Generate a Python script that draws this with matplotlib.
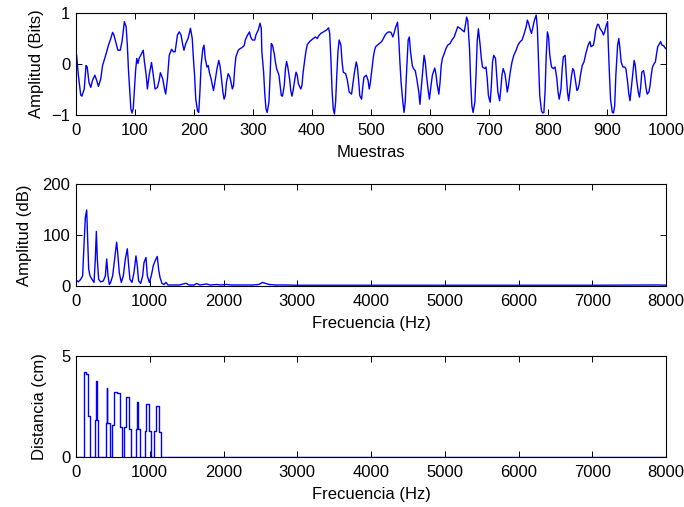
import matplotlib
matplotlib.use("Agg")
import matplotlib.pyplot as plt

plt.rcParams['font.family'] = ['Liberation Sans', 'DejaVu Sans']
FS = 12
plt.rcParams['font.size'] = FS

# --- Señal en el tiempo (muestras, amplitud) ---
muestras = [
    1, 4, 8, 10, 14, 17, 19, 22, 25, 28, 32, 35, 38, 42, 45, 49, 52, 55, 59, 62, 64, 68, 71, 75, 78, 80,
    82, 85, 87, 89, 91, 93, 95, 97, 99, 101, 103, 105, 107, 111, 114, 116, 119, 121, 124, 128, 131, 134,
    138, 141, 143, 147, 150, 152, 155, 158, 162, 165,
    168, 172, 175, 178, 181, 183, 186, 190, 192, 194, 197, 199, 201, 203, 206, 208, 210, 212, 215, 217,
    219, 222, 224, 226, 229, 233, 235, 239, 242, 244, 246, 249, 251, 253, 255, 258, 261, 265, 267, 269,
    271, 275, 278, 281, 285, 287, 290, 294, 296, 299, 303, 305, 309, 312, 314, 315, 318, 320, 322, 324,
    327, 329,
    331, 333, 336, 338, 340, 344, 346, 348, 350, 353, 355, 357, 359, 362, 364, 366, 368, 371, 373, 375,
    377, 381, 383, 385, 388, 390, 392, 396, 399, 402, 406, 409, 411, 415, 418, 422, 425, 428, 430, 432,
    434, 436, 438, 440, 442, 444, 446, 449, 451, 453, 457, 460, 463, 467, 469, 472, 475, 477, 479, 481,
    484, 486, 488, 492, 495, 497,
    499, 502, 504, 506, 508, 511, 514, 518, 521, 524, 528, 531, 534, 537, 539, 542, 545, 547, 549, 551,
    554, 556, 558, 560, 563, 565, 567, 570, 572, 575, 578, 581, 583, 585, 588, 590, 592, 594, 597, 599,
    601, 604, 608, 610, 612, 615, 617, 619, 621, 624, 627, 630, 634, 637, 641, 644, 647, 651, 654, 658,
    661,
    662, 664, 667, 669, 671, 673, 676, 678, 680, 682, 685, 687, 689, 693, 695, 697, 699, 702, 704, 706,
    708, 711, 713, 715, 718, 720, 722, 724, 727, 729, 731, 733, 736, 739, 742, 746, 749, 753, 756, 759,
    763, 765, 767, 770, 772, 774, 777, 780, 782, 784, 786, 789, 791, 793, 795, 797, 799, 801, 803, 806,
    809, 812, 815, 817, 819, 822, 824, 826, 829,
    831, 833, 835, 837, 840, 842, 844, 846, 849, 851, 853, 855, 858, 861, 864, 868, 871, 873, 877, 879,
    881, 884, 886, 888, 892, 894, 896, 898, 901, 902, 904, 906, 909, 911, 913, 915, 918, 920, 922, 924,
    927, 930, 932, 935, 937, 939, 941, 944, 946, 948, 950, 953, 955, 957, 959, 962, 964, 966, 968, 971,
    973, 975, 977, 980, 982, 984, 986, 989, 991, 993, 996, 998, 1000,
]
amplitud = [
    0.17, -0.22, -0.61, -0.63, -0.49, -0.03, -0.06, -0.36, -0.46, -0.32, -0.22, -0.32, -0.44, -0.29, -0.03,
    0.12, 0.24, 0.37, 0.50, 0.62, 0.58, 0.40, 0.27, 0.27, 0.44, 0.63,
    0.83, 0.73, 0.37, -0.13, -0.52, -0.88, -0.96, -0.88, -0.49, -0.13, 0.11, 0.01, 0.11, 0.20, 0.27, 0.04,
    -0.22, -0.49, -0.22, 0.03, -0.22, -0.49,
    -0.46, -0.32, -0.17, -0.29, -0.49, -0.59, -0.29, 0.17, 0.29, 0.24,
    0.24, 0.57, 0.63, 0.57, 0.37, 0.27, 0.40, 0.50, 0.60, 0.70, 0.50, 0.11, -0.22, -0.69, -0.92, -0.95,
    -0.55, -0.03, 0.30, 0.37,
    0.11, -0.06, -0.03, -0.16, -0.29, -0.52, -0.39, -0.09, 0.07, -0.03, -0.22, -0.55, -0.69, -0.62, -0.36,
    -0.19, -0.26, -0.49, -0.42, -0.09,
    0.14, 0.27, 0.30, 0.32, 0.36, 0.47, 0.55, 0.63, 0.53, 0.47, 0.47, 0.57, 0.67, 0.80, 0.70, 0.24, -0.16,
    -0.59, -0.88, -0.95,
    -0.75, -0.22,
    0.40, 0.37, 0.20, 0.04, -0.09, -0.22, -0.42, -0.62, -0.63, -0.42, -0.09, 0.05, -0.06, -0.29, -0.52,
    -0.63, -0.52, -0.29, -0.16, -0.22,
    -0.39, -0.49, -0.42, -0.16, 0.11, 0.27, 0.38, 0.44, 0.47, 0.50, 0.53, 0.50, 0.55, 0.60, 0.62, 0.65,
    0.67, 0.71, 0.60, 0.11,
    -0.52, -0.88, -0.98, -0.75, -0.22, 0.24, 0.47, 0.37, 0.04, -0.16, -0.19, -0.32, -0.55, -0.59, -0.42,
    -0.16, 0.04, -0.06, -0.32, -0.62,
    -0.69, -0.46, -0.26, -0.22, -0.32, -0.49,
    -0.36, -0.06, 0.14, 0.27, 0.34, 0.37, 0.40, 0.44, 0.50, 0.57, 0.62, 0.63, 0.62, 0.53, 0.60, 0.73,
    0.82, 0.50, 0.04, -0.36,
    -0.75, -0.95, -0.75, -0.22, 0.47, 0.53, 0.24, -0.03, -0.09, -0.13, -0.32, -0.55, -0.79, -0.49, -0.09,
    0.17, 0.04, -0.22, -0.52, -0.69,
    -0.49, -0.22, -0.08, -0.19, -0.39, -0.59, -0.36, -0.03, 0.11, 0.20, 0.30, 0.37, 0.40, 0.47, 0.53,
    0.63, 0.73, 0.70, 0.67, 0.63,
    0.83,
    0.92, 0.85, 0.30, -0.36, -0.82, -0.95, -0.75, -0.22, 0.44, 0.69, 0.37, 0.11, -0.06, -0.09, -0.06,
    -0.29, -0.62, -0.75, -0.42, 0.04,
    0.17, 0.11, -0.22, -0.55, -0.72, -0.49, -0.22, -0.09, -0.19, -0.36, -0.55, -0.42, -0.16, 0.04, 0.17,
    0.27, 0.37, 0.44, 0.47, 0.57,
    0.73, 0.86, 0.80, 0.67, 0.60, 0.70, 0.86, 0.96, 0.70, 0.04, -0.62, -0.92, -0.96, -0.95, -0.55, 0.17,
    0.63, 0.53, 0.17, -0.06,
    -0.09, -0.06, -0.29, -0.55, -0.69, -0.49, -0.09, 0.14, 0.17,
    -0.22, -0.55, -0.72, -0.52, -0.22, -0.09, -0.13, -0.29, -0.52, -0.49, -0.39, -0.22, -0.03, 0.04, 0.20,
    0.37, 0.44, 0.34, 0.37, 0.50,
    0.67, 0.78, 0.77, 0.70, 0.63, 0.57, 0.63, 0.73, 0.83, 0.44, -0.16, -0.69, -0.95, -0.96, -0.82, -0.22,
    0.37, 0.50, 0.30, 0.04,
    -0.06, -0.06, -0.09, -0.36, -0.59, -0.72, -0.49, -0.16, 0.07, -0.03, -0.29, -0.55, -0.65, -0.46, -0.16,
    -0.13, -0.26, -0.46, -0.59, -0.55,
    -0.42, -0.22, -0.06, 0.01, 0.04, 0.20, 0.34, 0.40, 0.44, 0.37, 0.36, 0.32, 0.30,
]

# --- Espectro en dB (frecuencia, amplitud) ---
frec_espectro = [
    0, 31, 63, 90, 108, 127, 145, 158, 172, 190, 217, 244, 262, 276, 289, 307, 334, 371, 398, 416, 434,
    452, 470, 497, 524, 551, 565, 587, 614, 642, 669, 696, 714, 732, 759, 786, 813, 831, 849, 877, 904,
    922, 949, 967, 994, 1021, 1048, 1075, 1102, 1120, 1139, 1166, 1193, 1220, 1247, 1300, 1400, 1478,
    1500, 1527, 1600, 1636, 1680, 1772, 1820, 1908, 1960, 2044, 2100, 2200, 2300, 2400, 2480, 2530,
    2570, 2620, 2700, 2800, 3000, 4000, 5000, 6000, 7000, 7900, 8000,
]
amplitud_db = [
    12, 8, 13, 20, 79, 135, 149, 92, 33, 20, 13, 7, 53, 107, 53, 13, 8, 10, 20, 53, 20,
    3, 7, 20, 53, 86, 66, 26, 7, 20, 53, 73, 40, 13, 7, 26, 59, 40, 10, 5, 20,
    46, 56, 20, 7, 20, 40, 50, 58, 33, 17, 5, 3, 7, 2, 2, 2, 5,
    5, 2, 2, 5, 2, 4, 2, 3, 2, 3, 2, 2, 2, 2, 3, 7,
    5, 3, 2, 2, 1.5, 1.5, 1.5, 1.5, 1.5, 2, 1.5,
]

# --- Distancia por armónico (bordes en Hz, valor en cm) ---
frec_distancia = [
    0, 109, 136, 164, 191,
    255, 273, 282, 305,
    400, 418, 427, 455,
    491, 514, 555, 591, 618,
    655, 678, 722, 750,
    809, 828, 841, 864,
    937, 955, 991, 1019,
    1064, 1082, 1119, 1146,
    8000,
]
distancia = [
    0, 4.22, 4.12, 2.03, 0,
    1.84, 3.75, 1.84, 0,
    1.67, 3.43, 1.67, 0,
    1.60, 3.23, 3.15, 1.48, 0,
    1.48, 2.95, 1.38, 0,
    1.38, 2.74, 1.38, 0,
    1.31, 2.62, 1.31, 0,
    1.31, 2.54, 1.22, 0,
    0,
]

W, H = 684, 507
fig = plt.figure(figsize=(W / 100, H / 100), dpi=100)


def make_axes(top_px, bottom_px):
    left, right = 76, 666
    return fig.add_axes([left / W, (H - bottom_px) / H, (right - left) / W, (bottom_px - top_px) / H])


def style(ax):
    ax.tick_params(direction='in', top=True, right=True, length=4.2, width=0.7,
                   labelsize=FS, colors='black')
    ax.tick_params(axis='x', pad=6)
    ax.tick_params(axis='y', pad=4)
    for s in ax.spines.values():
        s.set_linewidth(0.8)
        s.set_color('black')


azul = '#0000FF'

ax1 = make_axes(13, 115)
ax1.plot(muestras, amplitud, color=azul, lw=1.0)
ax1.set_xlim(0, 1000)
ax1.set_ylim(-1, 1)
ax1.set_xticks(range(0, 1001, 100))
ax1.set_yticks([-1, 0, 1])
ax1.set_xlabel('Muestras', fontsize=FS, labelpad=5)
ax1.set_ylabel('Amplitud (Bits)', fontsize=FS, labelpad=5.5)
style(ax1)

ax2 = make_axes(184, 286)
ax2.plot(frec_espectro, amplitud_db, color=azul, lw=1.0)
ax2.set_xlim(0, 8000)
ax2.set_ylim(0, 200)
ax2.set_xticks(range(0, 8001, 1000))
ax2.set_yticks([0, 100, 200])
ax2.set_xlabel('Frecuencia (Hz)', fontsize=FS, labelpad=5)
ax2.set_ylabel('Amplitud (dB)', fontsize=FS, labelpad=7.5)
style(ax2)

ax3 = make_axes(356, 457)
ax3.plot(frec_distancia, distancia, color=azul, lw=1.0, drawstyle='steps-post')
ax3.set_xlim(0, 8000)
ax3.set_ylim(0, 5)
ax3.set_xticks(range(0, 8001, 1000))
ax3.set_yticks([0, 5])
ax3.set_xlabel('Frecuencia (Hz)', fontsize=FS, labelpad=5)
ax3.set_ylabel('Distancia (cm)', fontsize=FS, labelpad=10)
style(ax3)

fig.savefig('out.png', dpi=100, facecolor='white')
